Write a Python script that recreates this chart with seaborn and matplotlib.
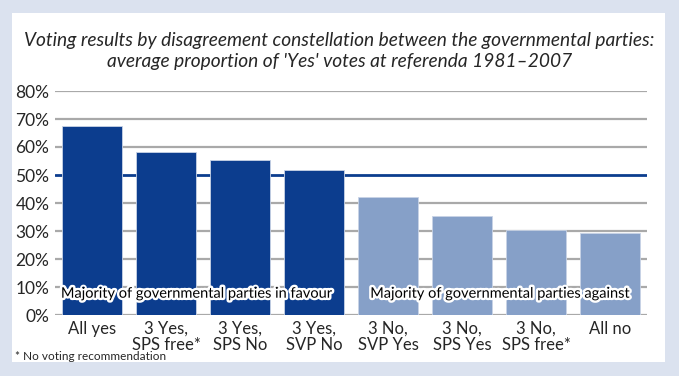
import matplotlib
matplotlib.use("Agg")
import matplotlib.pyplot as plt
import matplotlib.patheffects as pe
from matplotlib.patches import Rectangle
import seaborn as sns

# -----------------------------
# DATA
# -----------------------------
categories = ["All yes", "3 Yes,\nSPS free*", "3 Yes,\nSPS No", "3 Yes,\nSVP No",
              "3 No,\nSVP Yes", "3 No,\nSPS Yes", "3 No,\nSPS free*", "All no"]
yes_share = [67.5, 58.2, 55.5, 51.8, 42.3, 35.3, 30.5, 29.2]
group = ["favour"] * 4 + ["against"] * 4
yticks = [0, 10, 20, 30, 40, 50, 60, 70, 80]

dark_blue = "#0c3d8e"
light_blue = "#86a0c8"
bg = "#dbe2ef"

sns.set_style("white")
plt.rcParams["font.family"] = ["Lato", "DejaVu Sans"]

fig = plt.figure(figsize=(6.79, 3.76), dpi=100)
fig.patch.set_facecolor(bg)
fig.add_artist(Rectangle((12 / 679, 14 / 376), 653 / 679, 349 / 376,
                         transform=fig.transFigure, facecolor="white",
                         edgecolor="none", zorder=0))

ax = fig.add_axes([55 / 679, 61 / 376, 592 / 679, 224 / 376])
ax.set_facecolor("none")

# gridlines
for t in yticks:
    if t == 50:
        continue
    ax.axhline(t, color="#a9a9a9", lw=1.6, zorder=0)

sns.barplot(x=list(range(len(categories))), y=yes_share, hue=group,
            palette={"favour": dark_blue, "against": light_blue},
            saturation=1, width=0.8, legend=False, ax=ax, zorder=2,
            edgecolor="#c8d3e6", linewidth=0.6)

ax.axhline(50, color=dark_blue, lw=2.0, zorder=1)

ax.set_xlim(-0.5, 7.5)
ax.set_ylim(0, 80)
ax.set_yticks(yticks)
ax.set_yticklabels([f"{t}%" for t in yticks], fontsize=12.5)
ax.set_xticks(range(len(categories)))
ax.set_xticklabels(categories, fontsize=12, linespacing=1.05)
ax.tick_params(axis="both", length=0, pad=4)
ax.set_xlabel("")
ax.set_ylabel("")
for s in ax.spines.values():
    s.set_visible(False)

stroke = [pe.withStroke(linewidth=3.5, foreground="white")]
ax.text(-0.42, 7.6, "Majority of governmental parties in favour", fontsize=10.5,
        va="center", ha="left", color="black", path_effects=stroke, zorder=5)
ax.text(3.76, 7.6, "Majority of governmental parties against", fontsize=10.5,
        va="center", ha="left", color="black", path_effects=stroke, zorder=5)

fig.text(0.5, 0.864, "Voting results by disagreement constellation between the governmental parties:\n"
         "average proportion of 'Yes' votes at referenda 1981\u20132007",
         ha="center", va="center", fontsize=13.8, style="italic", linespacing=1.3)

fig.text(15 / 679, 20 / 376, "* No voting recommendation", fontsize=8.5, ha="left", va="center")

plt.savefig("out.png", dpi=100, facecolor=fig.get_facecolor())
plt.close()
